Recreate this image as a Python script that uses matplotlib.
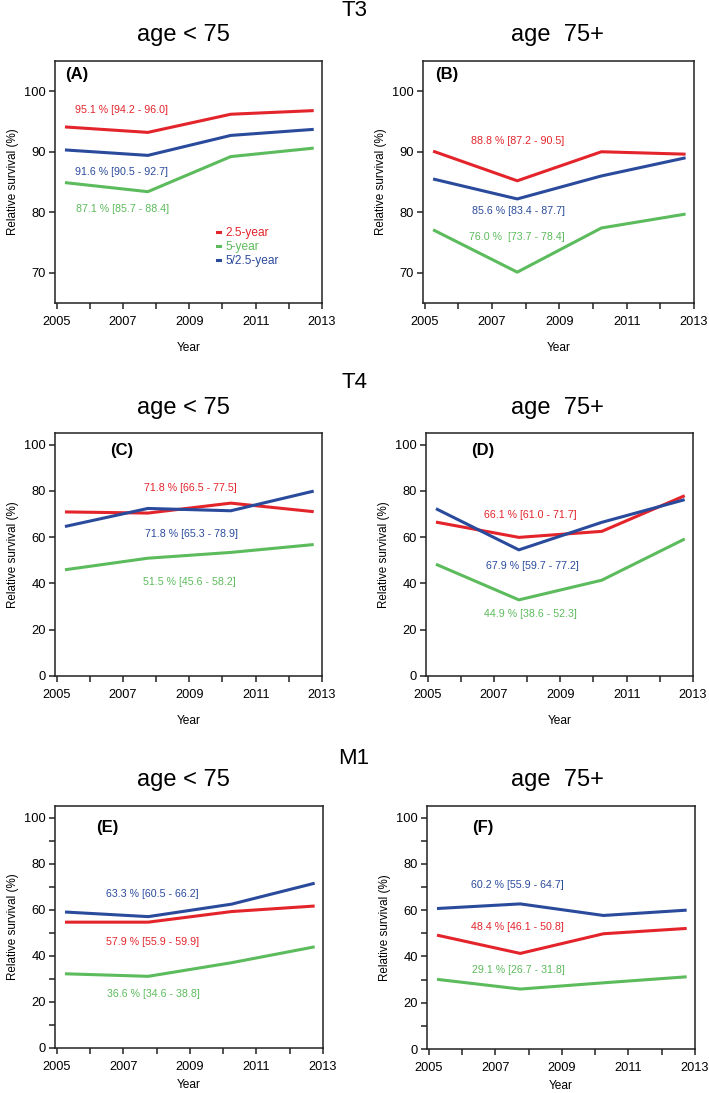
import matplotlib
matplotlib.use("Agg")
import matplotlib.pyplot as plt
from matplotlib.lines import Line2D

plt.rcParams["font.family"] = ["Liberation Sans", "DejaVu Sans"]

# period midpoints
years = [2005.25, 2007.75, 2010.25, 2012.75]

series_names = ["2.5-year", "5-year", "5/2.5-year"]
RED, GREEN, BLUE = "#e3242b", "#5cbb5c", "#2a4a9c"
colors = [RED, GREEN, BLUE]

# values: (2.5-year, 5-year, 5/2.5-year)
a_red = [94.1, 93.2, 96.2, 96.8]
a_green = [84.9, 83.4, 89.2, 90.6]
a_blue = [90.3, 89.4, 92.7, 93.7]

b_red = [90.1, 85.2, 90.0, 89.6]
b_green = [77.1, 70.1, 77.4, 79.7]
b_blue = [85.5, 82.2, 86.0, 89.0]

c_red = [70.9, 70.4, 74.7, 71.0]
c_green = [45.9, 50.9, 53.4, 56.8]
c_blue = [64.6, 72.4, 71.4, 79.9]

d_red = [66.5, 59.9, 62.5, 77.9]
d_green = [48.3, 32.9, 41.4, 59.2]
d_blue = [72.3, 54.5, 66.4, 76.2]

e_red = [54.6, 54.6, 59.2, 61.6]
e_green = [32.2, 31.1, 37.0, 43.9]
e_blue = [59.0, 57.0, 62.4, 71.5]

f_red = [49.2, 41.3, 49.8, 52.1]
f_green = [30.1, 25.9, 28.6, 31.2]
f_blue = [60.7, 62.7, 57.7, 60.0]

# overall estimates with CI (red, green, blue)
a_notes = ["95.1 % [94.2 - 96.0]", "87.1 % [85.7 - 88.4]", "91.6 % [90.5 - 92.7]"]
b_notes = ["88.8 % [87.2 - 90.5]", "76.0 %  [73.7 - 78.4]", "85.6 % [83.4 - 87.7]"]
c_notes = ["71.8 % [66.5 - 77.5]", "51.5 % [45.6 - 58.2]", "71.8 % [65.3 - 78.9]"]
d_notes = ["66.1 % [61.0 - 71.7]", "44.9 % [38.6 - 52.3]", "67.9 % [59.7 - 77.2]"]
e_notes = ["57.9 % [55.9 - 59.9]", "36.6 % [34.6 - 38.8]", "63.3 % [60.5 - 66.2]"]
f_notes = ["48.4 % [46.1 - 50.8]", "29.1 % [26.7 - 31.8]", "60.2 % [55.9 - 64.7]"]

panels = [
    dict(tag="(A)", vals=(a_red, a_green, a_blue), notes=a_notes,
         note_xy=[(2006.97, 96.9), (2006.99, 80.5), (2006.97, 86.7)],
         tag_x=2005.25, tag_y=102.8, ylim=(65, 105), yticks=[70, 80, 90, 100], minor=[]),
    dict(tag="(B)", vals=(b_red, b_green, b_blue), notes=b_notes,
         note_xy=[(2007.75, 91.8), (2007.74, 75.9), (2007.78, 80.25)],
         tag_x=2005.3, tag_y=102.8, ylim=(65, 105), yticks=[70, 80, 90, 100], minor=[]),
    dict(tag="(C)", vals=(c_red, c_green, c_blue), notes=c_notes,
         note_xy=[(2009.04, 81.4), (2009.0, 40.5), (2009.07, 61.2)],
         tag_x=2006.6, tag_y=97.5, ylim=(0, 105), yticks=[0, 20, 40, 60, 80, 100], minor=[]),
    dict(tag="(D)", vals=(d_red, d_green, d_blue), notes=d_notes,
         note_xy=[(2008.1, 69.4), (2008.1, 26.8), (2008.15, 47.6)],
         tag_x=2006.3, tag_y=97.5, ylim=(0, 105), yticks=[0, 20, 40, 60, 80, 100], minor=[]),
    dict(tag="(E)", vals=(e_red, e_green, e_blue), notes=e_notes,
         note_xy=[(2007.89, 45.8), (2007.9, 23.4), (2007.86, 66.8)],
         tag_x=2006.2, tag_y=95.5, ylim=(0, 105), yticks=[0, 20, 40, 60, 80, 100],
         minor=[10, 30, 50, 70, 90]),
    dict(tag="(F)", vals=(f_red, f_green, f_blue), notes=f_notes,
         note_xy=[(2007.68, 52.9), (2007.69, 34.2), (2007.65, 70.8)],
         tag_x=2006.3, tag_y=95.5, ylim=(0, 105), yticks=[0, 20, 40, 60, 80, 100],
         minor=[10, 30, 50, 70, 90]),
]

row_titles = ["T3", "T4", "M1"]
col_titles = ["age < 75", "age  75+"]

W, H = 709, 1093
fig = plt.figure(figsize=(W / 100, H / 100), dpi=100)

# axes boxes in pixels: left, right, top, bottom
boxes = [
    (55, 322, 61, 303), (423, 694, 61, 303),
    (55, 322, 433, 676), (426, 693, 433, 676),
    (55, 323, 806, 1048), (427, 695, 806, 1049),
]
row_title_y = [11, 382, 758]
col_title_y = [35, 408, 780]
col_title_x = [183, 557]

narrow = ["Liberation Sans Narrow", "Liberation Sans", "DejaVu Sans"]

for i, (p, (l, r, t, b)) in enumerate(zip(panels, boxes)):
    ax = fig.add_axes([l / W, 1 - b / H, (r - l) / W, (b - t) / H])
    for vals, c in zip(p["vals"], colors):
        ax.plot(years, vals, color=c, lw=2.2, solid_capstyle="butt")
    for txt, (x, y), c in zip(p["notes"], p["note_xy"], colors):
        ax.text(x, y, txt, color=c, fontsize=7.7, ha="center", va="center")
    ax.text(p["tag_x"], p["tag_y"], p["tag"], fontsize=12, fontweight="bold",
            ha="left", va="center")

    ax.set_xlim(2004.95, 2013.0)
    ax.set_ylim(*p["ylim"])
    ax.set_xticks(range(2005, 2014))
    ax.set_xticklabels([str(y) if y % 2 == 1 else "" for y in range(2005, 2014)],
                       family=narrow, fontsize=9.2)
    ax.set_yticks(p["yticks"])
    if p["minor"]:
        ax.set_yticks(p["minor"], minor=True)
    ax.tick_params(axis="both", which="both", direction="out", length=4.5, width=1.1,
                   color="#222222", pad=2)
    ax.tick_params(axis="y", labelsize=9.3)
    ax.tick_params(axis="x", pad=5)
    for s in ax.spines.values():
        s.set_linewidth(1.1)
        s.set_color("#222222")
    ax.set_xlabel("Year", fontsize=8.6, labelpad=4 if i >= 4 else 10)
    ax.set_ylabel("Relative survival (%)", fontsize=8.4, labelpad=4)

    if i == 0:
        handles = [Line2D([], [], color=c, lw=2.2) for c in colors]
        ax.legend(handles, series_names, loc="upper left", bbox_to_anchor=(0.59, 0.335),
                  frameon=False, fontsize=8.6, handlelength=0.2, handletextpad=0.45,
                  labelcolor=colors, borderaxespad=0, labelspacing=0.2)

for ry, name in zip(row_title_y, row_titles):
    fig.text(354 / W, 1 - ry / H, name, fontsize=16, ha="center", va="center")
for ty in col_title_y:
    for tx, name in zip(col_title_x, col_titles):
        fig.text(tx / W, 1 - ty / H, name, fontsize=17, ha="center", va="center")

fig.savefig("out.png", dpi=100)
